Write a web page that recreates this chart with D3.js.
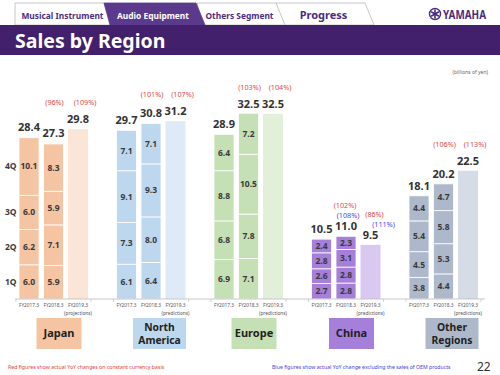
<!DOCTYPE html>
<html>
<head>
<meta charset="utf-8">
<script src="https://cdn.jsdelivr.net/npm/d3@7"></script>
<style>
  body { margin: 0; background: #fff; }
  svg { display: block; font-family: "Noto Sans", "DejaVu Sans", sans-serif; }
</style>
</head>
<body>
<svg id="chart" width="500" height="375"></svg>
<script>
// data (billions of yen)
var regions = ["Japan", "North America", "Europe", "China", "Other Regions"];
var regionLines = [["Japan"], ["North", "America"], ["Europe"], ["China"], ["Other", "Regions"]];
var years = ["FY2017.3", "FY2018.3", "FY2019.3"];
var quarters = ["1Q", "2Q", "3Q", "4Q"];

// quarterly sales, 1Q..4Q
var q2017 = [
  [6.0, 6.2, 6.0, 10.1],
  [6.1, 7.3, 9.1, 7.1],
  [6.9, 6.8, 8.8, 6.4],
  [2.7, 2.6, 2.8, 2.4],
  [3.8, 4.5, 5.4, 4.4]
];
var q2018 = [
  [5.9, 7.1, 5.9, 8.3],
  [6.4, 8.0, 9.3, 7.1],
  [7.1, 7.8, 10.5, 7.2],
  [2.8, 2.8, 3.1, 2.3],
  [4.4, 5.3, 5.8, 4.7]
];
var totals = [
  [28.4, 27.3, 29.8],
  [29.7, 30.8, 31.2],
  [28.9, 32.5, 32.5],
  [10.5, 11.0, 9.5],
  [18.1, 20.2, 22.5]
];
// YoY labels: red = constant currency, blue = excl. OEM
var redPct = [
  ["(96%)", "(109%)"],
  ["(101%)", "(107%)"],
  ["(103%)", "(104%)"],
  ["(102%)", "(86%)"],
  ["(106%)", "(113%)"]
];
var bluePct = [null, null, null, ["(108%)", "(111%)"], null];
var noteLabels = ["(projections)", "(predictions)", "(predictions)", "(predictions)", "(predictions)"];

var colors = ["#f5c4a3", "#bdd7ee", "#c5e0b4", "#a57fd9", "#adb9ca"];
var lightColors = ["#fbe5d6", "#deebf7", "#e2f0d9", "#d9c8f0", "#d6dce5"];

var svg = d3.select("#chart");
var purple = "#42206c";

// ---------- header ----------
var tabs = [
  {label: "Progress", x0: 276, x1: 365, size: 11, active: false},
  {label: "Others Segment", x0: 197, x1: 276, size: 8.4, active: false},
  {label: "Musical Instrument", x0: 15, x1: 104, size: 8.4, active: false, straight: true},
  {label: "Audio Equipment", x0: 104, x1: 196, size: 8.4, active: true}
];
tabs.forEach(function(t) {
  var left = t.straight ? [[t.x0, 25], [t.x0, 3]] : [[t.x0 + 6, 25], [t.x0, 3]];
  var pts = left.concat([[t.x1, 3], [t.x1 + 9, 25]]);
  svg.append("path")
    .attr("d", d3.line()(pts) + "Z")
    .attr("fill", t.active ? "#5b3a8e" : "#fff")
    .attr("stroke", t.active ? "#5b3a8e" : "#b8b8c0")
    .attr("stroke-width", 0.8);
  svg.append("text")
    .attr("x", (t.x0 + t.x1 + 6) / 2)
    .attr("y", 19)
    .attr("text-anchor", "middle")
    .attr("font-size", t.size)
    .attr("font-weight", "bold")
    .attr("fill", t.active ? "#fff" : "#4b2c80")
    .text(t.label);
});

svg.append("rect").attr("x", 0).attr("y", 25).attr("width", 500).attr("height", 30).attr("fill", purple);
svg.append("text")
  .attr("x", 15).attr("y", 48)
  .attr("font-size", 19.5).attr("font-weight", "bold").attr("fill", "#fff")
  .text("Sales by Region");

// yamaha mark
var logo = svg.append("g").attr("transform", "translate(435,14)");
logo.append("circle").attr("r", 5.5).attr("fill", "none").attr("stroke", "#4b2c80").attr("stroke-width", 1.4);
[0, 60, 120].forEach(function(a) {
  logo.append("line")
    .attr("x1", 0).attr("y1", -4.5).attr("x2", 0).attr("y2", 4.5)
    .attr("transform", "rotate(" + a + ")")
    .attr("stroke", "#4b2c80").attr("stroke-width", 1.6);
});
svg.append("text")
  .attr("x", 443).attr("y", 19)
  .attr("font-size", 12.5).attr("font-weight", "bold").attr("fill", "#4b2c80")
  .attr("textLength", 43).attr("lengthAdjust", "spacingAndGlyphs")
  .text("YAMAHA");

svg.append("text")
  .attr("x", 488).attr("y", 74).attr("text-anchor", "end")
  .attr("font-size", 5).attr("fill", "#666")
  .text("(billions of yen)");

// ---------- scales ----------
var x0 = d3.scaleBand().domain(regions).range([19, 478]).paddingInner(0.2923);
var x1 = d3.scaleBand().domain(years).range([0, x0.bandwidth()]).paddingInner(0.184);
var y = d3.scaleLinear().domain([0, 33]).range([299, 110.9]);

var chart = svg.append("g");

regions.forEach(function(r, i) {
  var g = chart.append("g").attr("transform", "translate(" + x0(r) + ",0)");
  var bw = x1.bandwidth();

  // stacked quarterly bars
  [q2017[i], q2018[i]].forEach(function(vals, j) {
    var stack = [];
    var acc = 0;
    vals.forEach(function(v, k) { stack.push({q: quarters[k], v: v, y0: acc, y1: acc + v}); acc += v; });
    var xb = x1(years[j]);
    g.selectAll(null).data(stack).enter().append("rect")
      .attr("x", xb).attr("width", bw)
      .attr("y", function(d) { return y(d.y1); })
      .attr("height", function(d) { return y(d.y0) - y(d.y1); })
      .attr("fill", colors[i])
      .attr("stroke", "#fff").attr("stroke-width", 0.8);
    g.selectAll(null).data(stack).enter().append("text")
      .attr("x", xb + bw / 2)
      .attr("y", function(d) { return (y(d.y0) + y(d.y1)) / 2 + 3; })
      .attr("text-anchor", "middle")
      .attr("font-size", 8.5).attr("font-weight", "bold").attr("fill", "#3a3a3a")
      .text(function(d) { return d.v.toFixed(1); });
  });

  // forecast bar
  g.append("rect")
    .attr("x", x1(years[2])).attr("width", bw)
    .attr("y", y(totals[i][2])).attr("height", y(0) - y(totals[i][2]))
    .attr("fill", lightColors[i]);

  // totals
  g.selectAll(null).data(totals[i]).enter().append("text")
    .attr("x", function(d, j) { return x1(years[j]) + bw / 2; })
    .attr("y", function(d) { return y(d) - 6; })
    .attr("text-anchor", "middle")
    .attr("font-size", 11).attr("font-weight", "bold").attr("fill", "#333")
    .text(function(d) { return d.toFixed(1); });

  // YoY labels
  var maxTop = y(d3.max(totals[i]));
  redPct[i].forEach(function(t, k) {
    var j = k + 1;
    var cx = x1(years[j]) + bw / 2 + (k === 1 ? 7 : 1);
    var ty;
    if (bluePct[i]) {
      ty = y(totals[i][j]) - 7 - 21;
      cx = x1(years[j]) + bw / 2 + (k === 1 ? 4 : -1);
    } else {
      ty = maxTop - 7 - 17;
    }
    g.append("text")
      .attr("x", cx).attr("y", ty)
      .attr("text-anchor", "middle").attr("font-size", 7.2).attr("fill", "#e04848")
      .text(t);
  });
  if (bluePct[i]) {
    bluePct[i].forEach(function(t, k) {
      var j = k + 1;
      g.append("text")
        .attr("x", x1(years[j]) + bw / 2 + (k === 1 ? 13 : 2))
        .attr("y", y(totals[i][j]) - 7 - 11)
        .attr("text-anchor", "middle").attr("font-size", 7.2).attr("fill", "#4848f0")
        .text(t);
    });
  }

  // category labels
  g.selectAll(null).data(years).enter().append("text")
    .attr("x", function(d) { return x1(d) + bw / 2; })
    .attr("y", 307)
    .attr("text-anchor", "middle").attr("font-size", 4.8).attr("fill", "#555")
    .text(function(d) { return d; });
  g.append("text")
    .attr("x", x1(years[2]) + bw / 2).attr("y", 315)
    .attr("text-anchor", "middle").attr("font-size", 4.8).attr("fill", "#555")
    .text(noteLabels[i]);

  // region box
  var lines = regionLines[i];
  var bwBox = lines.length > 1 ? 53 : 45;
  var cxBox = 40 + (lines.length > 1 ? 3 : 0);
  g.append("rect")
    .attr("x", cxBox - bwBox / 2).attr("y", 318)
    .attr("width", bwBox).attr("height", 31)
    .attr("fill", colors[i]);
  g.selectAll(null).data(lines).enter().append("text")
    .attr("x", cxBox)
    .attr("y", function(d, k) { return lines.length > 1 ? 331 + k * 12.5 : 337; })
    .attr("text-anchor", "middle")
    .attr("font-size", lines.length > 1 ? 10.3 : 11).attr("font-weight", "bold").attr("fill", "#222")
    .text(function(d) { return d; });

  // axis ticks at group edges
  g.append("line").attr("x1", -3).attr("x2", -3).attr("y1", 299).attr("y2", 302).attr("stroke", "#bbb").attr("stroke-width", 0.6);
  g.append("line").attr("x1", x0.bandwidth() + 3).attr("x2", x0.bandwidth() + 3).attr("y1", 299).attr("y2", 302).attr("stroke", "#bbb").attr("stroke-width", 0.6);
});

// baseline
chart.append("line")
  .attr("x1", 15).attr("x2", 485)
  .attr("y1", y(0)).attr("y2", y(0))
  .attr("stroke", "#bbb").attr("stroke-width", 0.8);

// quarter labels beside first Japan bar
var jp = [];
var acc = 0;
q2017[0].forEach(function(v, k) { jp.push({q: quarters[k], mid: acc + v / 2}); acc += v; });
chart.selectAll(null).data(jp).enter().append("text")
  .attr("x", 5)
  .attr("y", function(d) { return y(d.mid) + 3; })
  .attr("font-size", 8.5).attr("font-weight", "bold").attr("fill", "#3a3a3a")
  .text(function(d) { return d.q; });

// footnotes
svg.append("text")
  .attr("x", 8).attr("y", 369)
  .attr("font-size", 5.2).attr("fill", "#e04040")
  .text("Red figures show actual YoY changes on constant currency basis");
svg.append("text")
  .attr("x", 272).attr("y", 369)
  .attr("font-size", 5.2).attr("fill", "#4040e0")
  .text("Blue figures show actual YoY change excluding the sales of OEM products");
svg.append("text")
  .attr("x", 477).attr("y", 371)
  .attr("font-size", 12).attr("fill", "#333")
  .text("22");
</script>
</body>
</html>
